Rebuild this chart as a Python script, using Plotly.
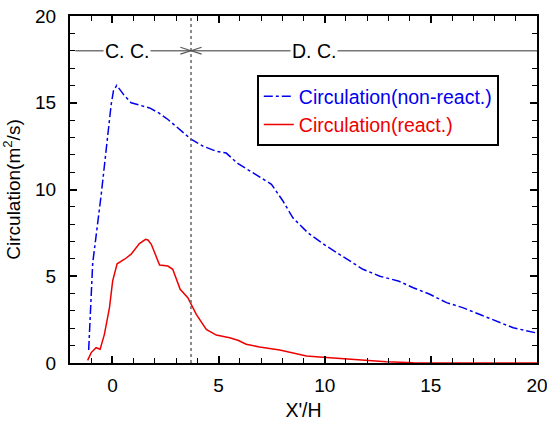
import plotly.graph_objects as go

blue_x = [-1.12, -0.93, -0.53, -0.06, 0.05, 0.2, 0.57, 0.88, 1.75, 2.2, 2.6, 3.32, 3.7, 4.26, 4.9, 5.36, 5.9,
          6.7, 7.49, 8.03, 8.5, 9.21, 10.08, 10.94, 11.8, 12.6, 13.46, 14.17, 14.95, 15.74, 16.5, 17.4, 18.17,
          18.88, 19.9, 20.0]
blue_y = [0.75, 5.76, 9.7, 14.9, 15.7, 16.0, 15.4, 15.0, 14.7, 14.4, 14.05, 13.27, 12.9, 12.5, 12.2, 12.1, 11.5,
          10.9, 10.3, 9.34, 8.37, 7.5, 6.74, 6.07, 5.4, 5.0, 4.73, 4.34, 3.96, 3.48, 3.19, 2.75, 2.38,
          2.03, 1.75, 1.7]

red_x = [-1.17, -1.0, -0.77, -0.58, -0.38, -0.14, 0.01, 0.22, 0.57, 0.88, 1.27, 1.56, 1.67, 1.83, 2.22, 2.61,
         2.84, 3.19, 3.55, 3.95, 4.42, 4.89, 5.52, 5.91, 6.3, 6.93, 7.88, 9.14, 10.08, 11.8, 12.9, 14.17, 16.0,
         18.0, 20.0]
red_y = [0.15, 0.6, 0.88, 0.79, 1.65, 3.19, 4.73, 5.72, 5.98, 6.27, 6.88, 7.13, 7.09, 6.84, 5.65, 5.59,
         5.4, 4.25, 3.76, 2.8, 1.94, 1.61, 1.46, 1.31, 1.08, 0.92, 0.75, 0.4, 0.31, 0.16, 0.07, 0.02, 0.02,
         0.01, 0.0]

x_ticks = [0, 5, 10, 15, 20]
y_ticks = [0, 5, 10, 15, 20]
boundary_x = 3.7
zone_y = 18
zone_labels = ["C. C.", "D. C."]
zone_label_x = [0.7, 9.5]

BLUE = "#0000ee"
RED = "#ee0000"
FONT = "Liberation Sans, Arial, sans-serif"
FS = 19
FL = 19.5

fig = go.Figure()
fig.add_trace(go.Scatter(x=blue_x, y=blue_y, mode="lines",
                         name=f"<span style='color:{BLUE}'>Circulation(non-react.)</span>",
                         line=dict(color=BLUE, width=1.5, dash="dashdot")))
fig.add_trace(go.Scatter(x=red_x, y=red_y, mode="lines",
                         name=f"<span style='color:{RED}'>Circulation(react.)</span>",
                         line=dict(color=RED, width=1.5)))

# vertical boundary line
fig.add_shape(type="line", xref="x", yref="y", x0=boundary_x, x1=boundary_x, y0=0, y1=20,
              line=dict(color="#666666", width=1.5, dash="3px,3px"))
# horizontal zone line
fig.add_shape(type="line", xref="x", yref="y", x0=-1.75, x1=20, y0=zone_y, y1=zone_y,
              line=dict(color="#777777", width=1.5))
# arrowheads (open V) at boundary
dx, dy = 0.5, 0.2
for s in (-1, 1):
    for t in (-1, 1):
        fig.add_shape(type="line", xref="x", yref="y", x0=boundary_x, y0=zone_y,
                      x1=boundary_x + s * dx, y1=zone_y + t * dy,
                      line=dict(color="#555555", width=1.2))

for lab, lx in zip(zone_labels, zone_label_x):
    fig.add_annotation(x=lx, y=zone_y, text=lab, showarrow=False, xref="x", yref="y",
                       bgcolor="white", font=dict(family=FONT, size=FL, color="black"), borderpad=1)

axis_common = dict(showline=True, linecolor="black", linewidth=2, mirror="allticks", ticks="inside",
                   ticklen=7, tickwidth=2, tickcolor="black", showgrid=False, zeroline=False,
                   automargin=False, ticklabeloverflow="allow",
                   tickfont=dict(family=FONT, size=FS, color="black"),
                   minor=dict(ticks="inside", ticklen=5, tickwidth=1, tickcolor="black", dtick=1, showgrid=False))

fig.update_xaxes(range=[-2, 20], tickvals=x_ticks, ticklabelstandoff=4,
                 title=dict(text="X'/H", font=dict(family=FONT, size=FL), standoff=9),
                 **axis_common)
fig.update_yaxes(range=[0, 20], tickvals=y_ticks, ticklabelstandoff=8,
                 title=dict(text="Circulation(m<sup>2</sup>/s)", font=dict(family=FONT, size=FS), standoff=12),
                 **axis_common)

fig.update_layout(
    width=547, height=425,
    margin=dict(l=70, r=10, t=16, b=62),
    plot_bgcolor="white", paper_bgcolor="white",
    font=dict(family=FONT, size=FS, color="black"),
    legend=dict(x=0.40, y=0.83, xanchor="left", yanchor="top", bgcolor="white",
                bordercolor="black", borderwidth=2, font=dict(family=FONT, size=FL),
                tracegroupgap=0, itemwidth=30),
    showlegend=True,
)

fig.write_html("out.html")
